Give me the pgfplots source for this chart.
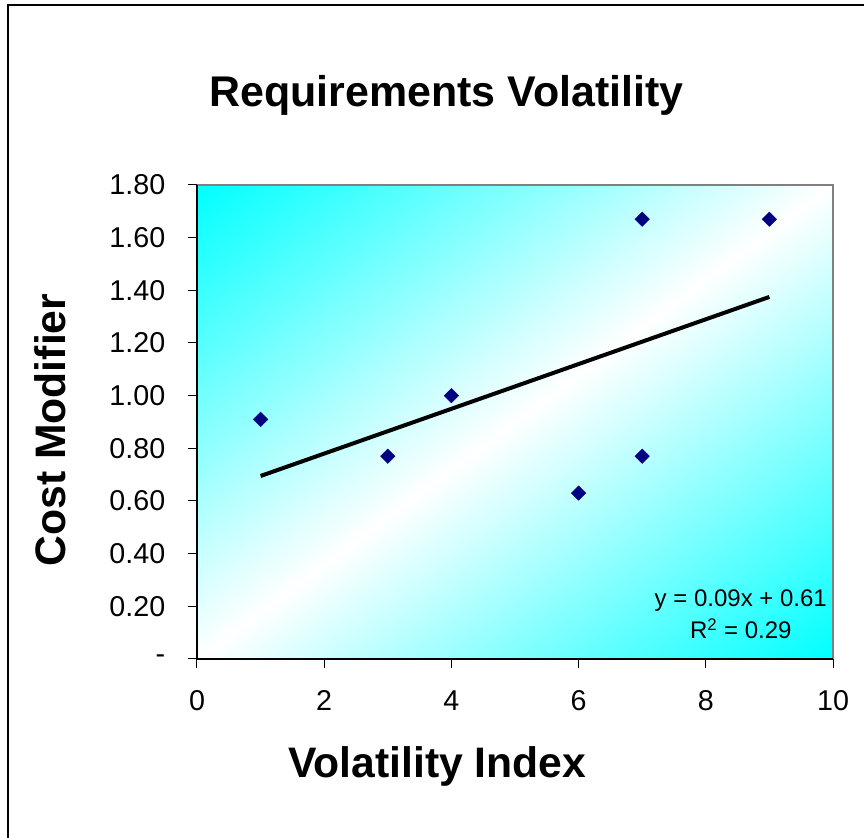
\documentclass[border=0pt]{standalone}
\usepackage{fontspec}
\setmainfont{Liberation Sans}
\usepackage{pgfplots}
\pgfplotsset{compat=1.18}

\definecolor{navymark}{RGB}{0,0,128}
\definecolor{frame}{RGB}{128,128,128}

% cyan in the top-left and bottom-right corners, white along the other diagonal
\pgfdeclarefunctionalshading{diagcyan}{\pgfpoint{0bp}{0bp}}{\pgfpoint{100bp}{100bp}}{}{%
  sub abs 50 div 1 exch sub 1 1}

\begin{document}
\begin{tikzpicture}[x=0.75pt,y=0.75pt]
\useasboundingbox (0,0) rectangle (864,838);
% chart area border (only top and left are inside the picture)
\draw[line width=1.5pt] (8,-10) -- (8,833) -- (880,833);

\begin{axis}[
    at={(147.75pt,134.25pt)}, anchor=south west,
    scale only axis, width=477pt, height=355.5pt,
    xmin=0, xmax=10, ymin=0, ymax=1.8,
    axis x line*=bottom, axis y line*=left,
    axis line style={-, black, line width=1pt},
    axis background/.style={shade, shading=diagcyan,
                            draw=frame, line width=1pt},
    tick align=outside, major tick length=6.75pt,
    tick style={black, line width=0.75pt},
    xtick={0,2,4,6,8,10}, xticklabels={0,2,4,6,8,10},
    ytick={0,0.2,0.4,0.6,0.8,1.0,1.2,1.4,1.6,1.8},
    yticklabels={-,0.20,0.40,0.60,0.80,1.00,1.20,1.40,1.60,1.80},
    ticklabel style={font=\fontsize{21.5}{25}\selectfont},
    yticklabel style={xshift=-13.5pt},
    xticklabel style={yshift=-13.5pt},
    title={Requirements Volatility},
    title style={at={(axis description cs:0.392,1.148)}, anchor=base,
                 font=\bfseries\fontsize{32.2}{37}\selectfont},
    xlabel={Volatility Index},
    xlabel style={at={(axis description cs:0.378,-0.249)}, anchor=base,
                  font=\bfseries\fontsize{32}{37}\selectfont},
    ylabel={Cost Modifier},
    ylabel style={at={(axis description cs:-0.2075,0.483)}, anchor=base,
                  font=\bfseries\fontsize{32}{37}\selectfont},
    clip=false,
]
\addplot[only marks, mark=square*, mark size=3.8pt,
         mark options={rotate=45, fill=navymark, draw=navymark}]
  coordinates {(1,0.91) (3,0.77) (4,1.00) (6,0.63) (7,1.67) (7,0.77) (9,1.67)};
% linear trend line
\addplot[black, line width=3pt] coordinates {(1,0.695) (9,1.375)};

\node[anchor=base, font=\fontsize{18}{21}\selectfont]
  at (axis cs:8.55,0.201) {y = 0.09x + 0.61};
\node[anchor=base, font=\fontsize{18}{21}\selectfont]
  at (axis cs:8.55,0.076) {R\textsuperscript{2} = 0.29};
\end{axis}
\end{tikzpicture}
\end{document}
